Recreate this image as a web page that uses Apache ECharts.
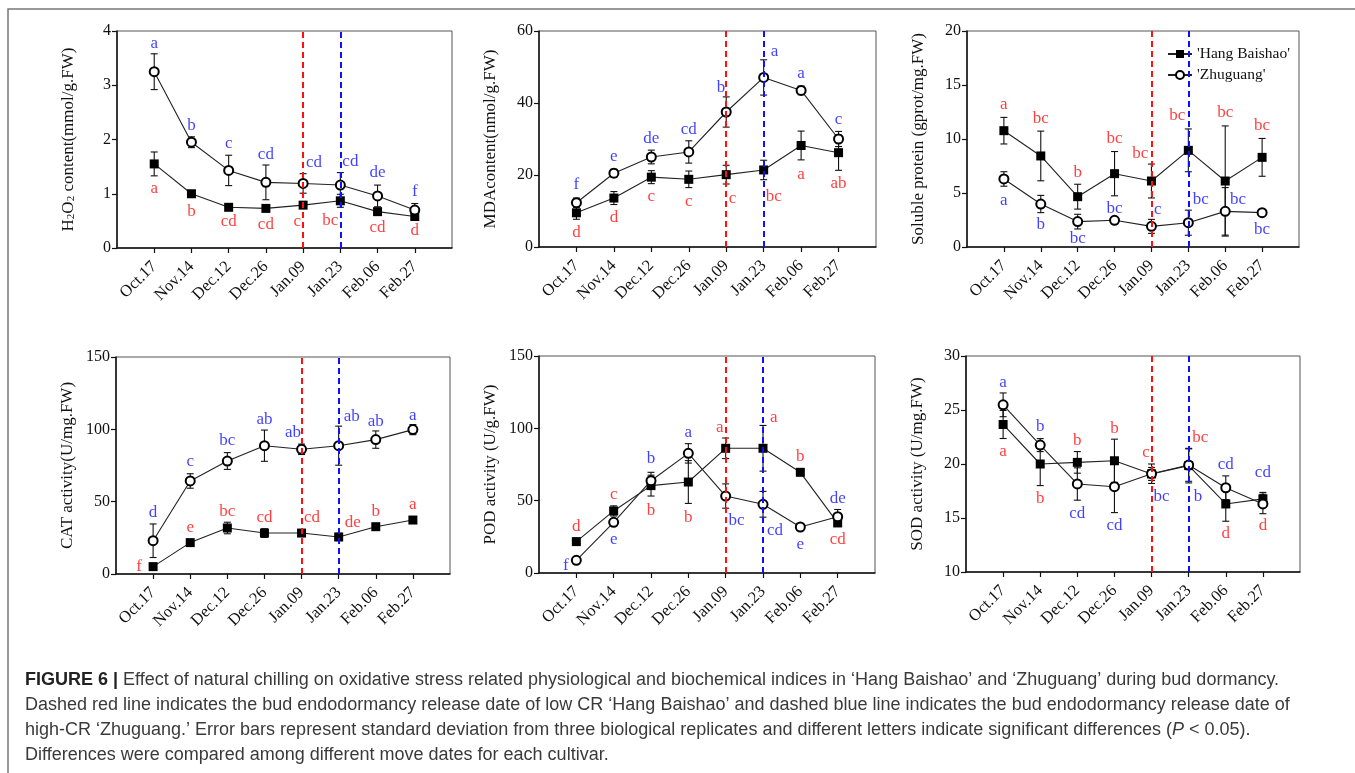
<!DOCTYPE html>
<html><head><meta charset="utf-8">
<script src="https://cdn.jsdelivr.net/npm/echarts@6/dist/echarts.min.js"></script>
<style>html,body{margin:0;padding:0;background:#fff}#c{width:1355px;height:773px}</style>
</head><body><div id="c"></div>
<script>
// ---------------- DATA ----------------
const categories = ['Oct.17','Nov.14','Dec.12','Dec.26','Jan.09','Jan.23','Feb.06','Feb.27'];
const seriesNames = ["'Hang Baishao'", "'Zhuguang'"];
const releaseDates = ['Jan.09', 'Jan.23']; // red: 'Hang Baishao', blue: 'Zhuguang'

// H2O2
const h2o2Hang = [1.55,1.00,0.75,0.73,0.79,0.87,0.67,0.58];
const h2o2HangSD = [0.22,0.05,0.04,0.04,0.05,0.12,0.05,0.05];
const h2o2Zhu = [3.25,1.95,1.43,1.21,1.19,1.16,0.96,0.70];
const h2o2ZhuSD = [0.33,0.10,0.28,0.32,0.18,0.23,0.20,0.12];
const h2o2HangLetters = ['a','b','cd','cd','c','bc','cd','d'];
const h2o2ZhuLetters = ['a','b','c','cd','cd','cd','de','f'];
const h2o2Ticks = [0,1,2,3,4];

// MDA
const mdaHang = [9.5,13.6,19.4,18.8,20.1,21.4,28.2,26.2];
const mdaHangSD = [1.8,1.8,1.8,2.3,2.6,2.7,4.0,4.9];
const mdaZhu = [12.3,20.5,25.0,26.4,37.5,47.1,43.5,30.0];
const mdaZhuSD = [1.3,1.1,1.9,3.1,4.2,4.9,1.2,2.1];
const mdaHangLetters = ['d','d','c','c','c','bc','a','ab'];
const mdaZhuLetters = ['f','e','de','cd','b','a','a','c'];
const mdaTicks = [0,20,40,60];

// Soluble protein
const protHang = [10.77,8.43,4.66,6.79,6.11,8.95,6.11,8.30];
const protHangSD = [1.23,2.3,1.15,2.05,1.57,1.98,5.1,1.75];
const protZhu = [6.30,3.98,2.35,2.47,1.91,2.25,3.30,3.18];
const protZhuSD = [0.67,0.8,0.68,0.3,0.65,1.16,2.2,0.1];
const protHangLetters = ['a','bc','b','bc','bc','bc','bc','bc'];
const protZhuLetters = ['a','b','bc','bc','c','bc','bc','bc'];
const protTicks = [0,5,10,15,20];

// CAT
const catHang = [5.1,21.7,31.8,28.3,28.3,25.6,32.7,37.3];
const catHangSD = [0.8,1.5,4.0,3.0,2.0,2.5,2.0,2.0];
const catZhu = [23.0,64.3,78.1,88.7,86.2,88.7,92.9,99.8];
const catZhuSD = [11.6,5.0,5.8,10.8,3.6,13.5,6.0,3.5];
const catHangLetters = ['f','e','bc','cd','cd','de','b','a'];
const catZhuLetters = ['d','c','bc','ab','ab','ab','ab','a'];
const catTicks = [0,50,100,150];

// POD
const podHang = [21.7,42.9,60.4,62.9,86.2,86.2,69.6,34.6];
const podHangSD = [1.5,3.5,7.2,14.8,7.1,15.8,1.5,2.0];
const podZhu = [8.8,35.0,63.8,82.7,53.2,47.5,31.8,38.9];
const podZhuSD = [0.8,1.5,5.8,6.7,8.4,8.9,2.0,5.0];
const podHangLetters = ['d','c','b','b','a','a','b','cd'];
const podZhuLetters = ['f','e','b','a','bc','cd','e','de'];
const podTicks = [0,50,100,150];

// SOD
const sodHang = [23.66,20.0,20.15,20.3,19.08,19.85,16.3,16.77];
const sodHangSD = [1.3,2.0,1.0,2.0,0.6,1.6,1.6,0.6];
const sodZhu = [25.48,21.75,18.15,17.9,19.1,19.9,17.8,16.3];
const sodZhuSD = [1.1,0.6,1.5,2.4,0.9,1.5,1.1,0.9];
const sodHangLetters = ['a','b','b','b','c','bc','d','d'];
const sodZhuLetters = ['a','b','cd','cd','bc','b','cd','cd'];
const sodTicks = [10,15,20,25,30];

// ---------------- LAYOUT (positions / styles) ----------------
const SERIF = "'Liberation Serif','Times New Roman',serif";
const RED = '#ff1010', BLUE = '#1010ff';
const panels = [
  {grid:{left:117,top:31,width:335,height:217}, ticks:h2o2Ticks,
   name:'H{s|2}O{s|2} content(mmol/g.FW)',
   hang:h2o2Hang, hangSD:h2o2HangSD, zhu:h2o2Zhu, zhuSD:h2o2ZhuSD, hangL:h2o2HangLetters, zhuL:h2o2ZhuLetters,
   zhuY:[3.76,2.26,1.92,1.73,1.58,1.59,1.39,1.04], zhuDx:[0,0,0,0,0.29,0.27,0,0],
   hangY:[1.09,0.67,0.49,0.44,0.49,0.50,0.38,0.32], hangDx:[0,0,0,0,-0.16,-0.27,0,0]},
  {grid:{left:539,top:31,width:337,height:216}, ticks:mdaTicks,
   name:'MDAcontent(nmol/g.FW)',
   hang:mdaHang, hangSD:mdaHangSD, zhu:mdaZhu, zhuSD:mdaZhuSD, hangL:mdaHangLetters, zhuL:mdaZhuLetters,
   zhuY:[17.3,25.1,30.0,32.7,44.4,54.3,48.1,35.3], zhuDx:[0,0,0,0,-0.14,0.29,0,0],
   hangY:[3.9,8.2,14.0,12.6,13.6,14.1,20.2,17.6], hangDx:[0,0,0,0,0.17,0.27,0,0]},
  {grid:{left:967,top:31,width:332,height:216}, ticks:protTicks,
   name:'Soluble protein (gprot/mg.FW)',
   hang:protHang, hangSD:protHangSD, zhu:protZhu, zhuSD:protZhuSD, hangL:protHangLetters, zhuL:protZhuLetters,
   hangY:[13.2,11.85,6.9,10.0,8.67,12.16,12.47,11.23], hangDx:[0,0,0,0,-0.30,-0.30,0,0],
   zhuY:[4.32,2.07,0.83,3.52,3.43,4.41,4.41,1.64], zhuDx:[0,0,0,0,0.17,0.34,0.35,0]},
  {grid:{left:116,top:357,width:334,height:217}, ticks:catTicks,
   name:'CAT activity(U/mg.FW)',
   hang:catHang, hangSD:catHangSD, zhu:catZhu, zhuSD:catZhuSD, hangL:catHangLetters, zhuL:catZhuLetters,
   zhuY:[42.6,77.6,92.4,106.7,97.9,108.9,105.5,109.4], zhuDx:[0,0,0,0,-0.23,0.35,0,0],
   hangY:[5.3,32.3,42.9,38.7,38.7,35.9,42.9,47.7], hangDx:[-0.38,0,0,0,0.28,0.38,0,0]},
  {grid:{left:539,top:356,width:336,height:217}, ticks:podTicks,
   name:'POD activity (U/g.FW)',
   hang:podHang, hangSD:podHangSD, zhu:podZhu, zhuSD:podZhuSD, hangL:podHangLetters, zhuL:podZhuLetters,
   hangY:[31.8,53.9,43.3,38.0,100.9,107.8,80.2,23.0], hangDx:[0,0,0,0,-0.16,0.29,0,0],
   zhuY:[5.1,23.0,79.0,97.0,36.2,29.3,20.0,51.4], zhuDx:[-0.28,0,0,0,0.29,0.32,0,0]},
  {grid:{left:966,top:356,width:334,height:216}, ticks:sodTicks,
   name:'SOD activity (U/mg.FW)',
   hang:sodHang, hangSD:sodHangSD, zhu:sodZhu, zhuSD:sodZhuSD, hangL:sodHangLetters, zhuL:sodZhuLetters,
   zhuY:[27.57,23.45,15.45,14.34,16.98,16.98,19.97,19.2], zhuDx:[0,0,0,0,0.27,0.25,0,0],
   hangY:[21.14,16.83,22.2,23.3,21.05,22.46,13.57,14.28], hangDx:[0,0,0,0,-0.15,0.31,0,0]}
];

const catPos = categories.map((c,i)=>i+1);
const grids = [], xAxes = [], yAxes = [], series = [];

function errSeries(idx, vals, sds){
  return {type:'custom', xAxisIndex:idx, yAxisIndex:idx, silent:true, z:2,
    data: vals.map((v,i)=>[i+1, v, sds[i]]),
    encode:{x:0, y:1},
    renderItem(params, api){
      const x = api.value(0), y = api.value(1), s = api.value(2);
      const t = api.coord([x, y+s]), b = api.coord([x, y-s]);
      const w = 3.5, st = {stroke:'#111', lineWidth:1.1};
      return {type:'group', children:[
        {type:'line', shape:{x1:t[0],y1:t[1],x2:b[0],y2:b[1]}, style:st},
        {type:'line', shape:{x1:t[0]-w,y1:t[1],x2:t[0]+w,y2:t[1]}, style:st},
        {type:'line', shape:{x1:b[0]-w,y1:b[1],x2:b[0]+w,y2:b[1]}, style:st}
      ]};
    }};
}
function letterSeries(idx, letters, ys, dxs, color){
  return {type:'scatter', xAxisIndex:idx, yAxisIndex:idx, silent:true, z:5,
    symbolSize:1, itemStyle:{color:'rgba(0,0,0,0)'},
    data: letters.map((t,i)=>({name:t, value:[i+1+dxs[i], ys[i]]})),
    label:{show:true, position:'inside', formatter:'{b}', color:color, fontFamily:SERIF, fontSize:17},
    emphasis:{disabled:true}};
}

panels.forEach((p, idx)=>{
  grids.push(Object.assign({show:true, borderColor:'#555', borderWidth:1, backgroundColor:'transparent'}, p.grid));
  xAxes.push({type:'value', gridIndex:idx, min:0, max:9, interval:1,
    axisLine:{lineStyle:{color:'#111', width:1.5}},
    axisTick:{customValues:catPos, length:5, lineStyle:{color:'#111', width:1.2}},
    axisLabel:{customValues:catPos, rotate:45, margin:16, fontFamily:SERIF, fontSize:16.5, color:'#111',
      formatter:(v)=>categories[Math.round(v)-1] || ''},
    splitLine:{show:false}});
  const tk = p.ticks;
  yAxes.push({type:'value', gridIndex:idx, min:tk[0], max:tk[tk.length-1], interval:tk[1]-tk[0],
    name:p.name, nameLocation:'middle', nameGap:40,
    nameTextStyle:{fontFamily:SERIF, fontSize:17, color:'#111',
      rich:{s:{fontFamily:SERIF, fontSize:11, color:'#111', verticalAlign:'bottom', padding:[6,0,0,0]}}},
    axisLine:{show:true, lineStyle:{color:'#111', width:1.5}},
    axisTick:{show:true, length:5, lineStyle:{color:'#111', width:1.2}},
    axisLabel:{fontFamily:SERIF, fontSize:16, color:'#111', margin:6},
    splitLine:{show:false}});
  series.push(errSeries(idx, p.hang, p.hangSD));
  series.push(errSeries(idx, p.zhu, p.zhuSD));
  series.push({type:'line', name:seriesNames[0], xAxisIndex:idx, yAxisIndex:idx, z:3,
    data:p.hang.map((v,i)=>[i+1,v]), symbol:'rect', symbolSize:9,
    itemStyle:{color:'#000'}, lineStyle:{color:'#222', width:1.1}, emphasis:{disabled:true},
    markLine:{silent:true, symbol:'none', label:{show:false},
      data:[
        {xAxis: categories.indexOf(releaseDates[0])+1, lineStyle:{color:RED, type:[6,4], width:2}},
        {xAxis: categories.indexOf(releaseDates[1])+1, lineStyle:{color:BLUE, type:[6,4], width:2}}
      ]}});
  series.push({type:'line', name:seriesNames[1], xAxisIndex:idx, yAxisIndex:idx, z:4,
    data:p.zhu.map((v,i)=>[i+1,v]), symbol:'emptyCircle', symbolSize:9,
    itemStyle:{color:'#000', borderWidth:1.1}, lineStyle:{color:'#222', width:1.1}, emphasis:{disabled:true}});
  series.push(letterSeries(idx, p.hangL, p.hangY, p.hangDx, RED));
  series.push(letterSeries(idx, p.zhuL, p.zhuY, p.zhuDx, BLUE));
});

const CAPF = "'Liberation Sans',Arial,sans-serif";
const capStyle = {fontFamily:CAPF, fontSize:18, fill:'#3a3a3a'};
const capLines = [
  '{b|FIGURE 6 |} Effect of natural chilling on oxidative stress related physiological and biochemical indices in \u2018Hang Baishao\u2019 and \u2018Zhuguang\u2019 during bud dormancy.',
  'Dashed red line indicates the bud endodormancy release date of low CR \u2018Hang Baishao\u2019 and dashed blue line indicates the bud endodormancy release date of',
  'high-CR \u2018Zhuguang.\u2019 Error bars represent standard deviation from three biological replicates and different letters indicate significant differences ({i|P} < 0.05).',
  'Differences were compared among different move dates for each cultivar.'
];
const graphics = [
  {type:'polyline', shape:{points:[[8,773],[8,9],[1355,9]]}, style:{stroke:'#777', lineWidth:1.5, fill:null}, silent:true}
];
capLines.forEach((t,i)=>{
  graphics.push({type:'text', left:25, top:671+i*25, silent:true,
    style:Object.assign({text:t, rich:{b:{fontFamily:CAPF, fontSize:18, fontWeight:'bold', fill:'#222'},
      i:{fontFamily:CAPF, fontSize:18, fontStyle:'italic', fill:'#3a3a3a'}}}, capStyle)});
});

const chart = echarts.init(document.getElementById('c'), null, {renderer:'canvas'});
chart.setOption({
  animation:false,
  backgroundColor:'#fff',
  grid:grids, xAxis:xAxes, yAxis:yAxes, series:series,
  legend:{data:seriesNames, orient:'vertical', left:1162, top:41, itemGap:5, itemWidth:24, itemHeight:10,
    selectedMode:false, textStyle:{fontFamily:SERIF, fontSize:15.5, color:'#111'}},
  graphic:graphics
});
</script></body></html>
